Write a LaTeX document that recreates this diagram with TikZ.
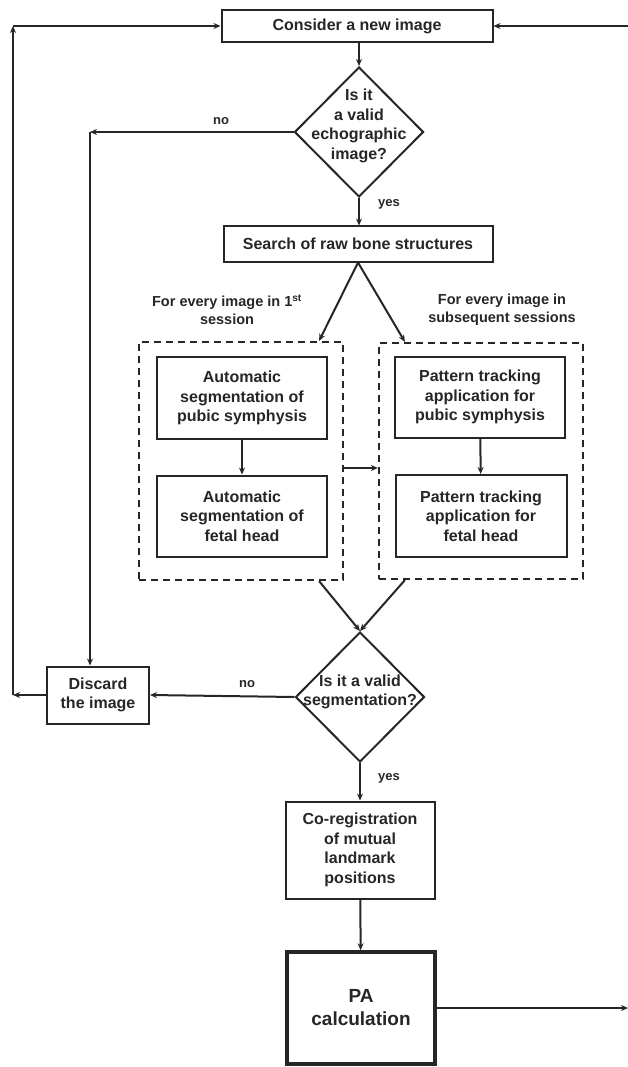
\documentclass[tikz,border=0pt]{standalone}
\usepackage{fontspec}
\setmainfont{Liberation Sans}
\usepackage{tikz}
\usetikzlibrary{positioning,shapes.geometric,arrows.meta}

\begin{document}
\begin{tikzpicture}
  [x=1pt,y=-1pt,line width=2pt,draw=black!85,>={Stealth[length=7pt,width=6pt]},
   every node/.style={font=\fontsize{16}{19.5}\selectfont\bfseries,align=center,text=black!85},
   box/.style={draw=black!85,rectangle,inner sep=0pt},
   decision/.style={draw=black!85,diamond,inner sep=0pt,minimum width=129pt,minimum height=130pt},
   group/.style={draw=black!85,rectangle,dash pattern=on 7pt off 5pt,line width=2.2pt,inner sep=0pt},
   note/.style={font=\fontsize{14.5}{18}\selectfont\bfseries},
   answer/.style={font=\fontsize{13}{15}\selectfont\bfseries}]

  \useasboundingbox (0,0) rectangle (628,1067);

  \node[box,minimum width=271pt,minimum height=32pt] (consider) at (357,26) {Consider a new image};
  \node[decision] (valid1) at (359,132) {};
  \node (valid1txt) at (359,126) {Is it\\a valid\\echographic\\image?};
  \node[box,minimum width=269pt,minimum height=35pt] (search) at (358,244) {Search of raw bone structures};
  \node[note] (first) at (227,310) {For every image in 1\textsuperscript{st}\\session};
  \node[note] (later) at (502,310) {For every image in\\subsequent sessions};
  \node[group,minimum width=204pt,minimum height=238pt] (grp1) at (241,461) {};
  \node[group,minimum width=204pt,minimum height=236pt] (grp2) at (481,461) {};
  \node[box,minimum width=170pt,minimum height=82pt] (auto1) at (242,398) {Automatic\\segmentation of\\pubic symphysis};
  \node[box,minimum width=170pt,minimum height=81pt] (auto2) at (242,516) {Automatic\\segmentation of\\fetal head};
  \node[box,minimum width=170pt,minimum height=81pt] (track1) at (480,397) {Pattern tracking\\application for\\pubic symphysis};
  \node[box,minimum width=171pt,minimum height=82pt] (track2) at (481,516) {Pattern tracking\\application for\\fetal head};
  \node[decision] (valid2) at (360,697) {};
  \node (valid2txt) at (360,692) {Is it a valid\\segmentation?};
  \node[box,minimum width=102pt,minimum height=57pt] (discard) at (98,695) {Discard\\the image};
  \node[box,minimum width=149pt,minimum height=97pt] (coreg) at (360,850) {Co-registration\\of mutual\\landmark\\positions};
  \node[box,line width=3.5pt,minimum width=148pt,minimum height=112pt,font=\fontsize{19}{23}\selectfont\bfseries] (pa) at (361,1008) {PA\\calculation};

  \node[answer] (no1) at (221,121) {no};
  \node[answer] (yes1) at (389,204) {yes};
  \node[answer] (no2) at (247,684) {no};
  \node[answer] (yes2) at (389,778) {yes};

  \coordinate (rin) at (628,26);
  \coordinate (ltop) at (13,26);
  \coordinate (lbot) at (13,695);
  \coordinate (nocorner) at (90,132);
  \coordinate (pout) at (628,1008);

  % main line
  \draw[->] (valid1.north |- consider.south) -- (valid1.north);
  \draw[->] (valid1.south) -- (valid1.south |- search.north);
  \draw[->] (search.south) -- ([xshift=-25pt]grp1.north east);
  \draw[->] (search.south) -- ([xshift=27pt]grp2.north west);
  \draw[->] (auto1) -- (auto2);
  \draw[->] (track1) -- (track2);
  \draw[->] ([yshift=-7pt]grp1.east) -- ([yshift=-7pt]grp2.west);
  \draw[->] ([xshift=-25pt]grp1.south east) -- (valid2.north);
  \draw[->] ([xshift=27pt]grp2.south west) -- (valid2.north);
  \draw[->] (valid2.south) -- (valid2.south |- coreg.north);
  \draw[->] (coreg) -- (pa);
  \draw[->] (pa.east) -- (pout);

  % rejections and loops
  \draw[->] (valid1.west) -- (nocorner);
  \draw[->] (nocorner) -- (nocorner |- discard.north);
  \draw[->] (valid2.west) -- (discard.east);
  \draw[->] (discard.west) -- (lbot);
  \draw[->] (lbot) -- (ltop);
  \draw[->] (ltop) -- (consider.west);
  \draw[->] (rin) -- (consider.east);
\end{tikzpicture}
\end{document}
